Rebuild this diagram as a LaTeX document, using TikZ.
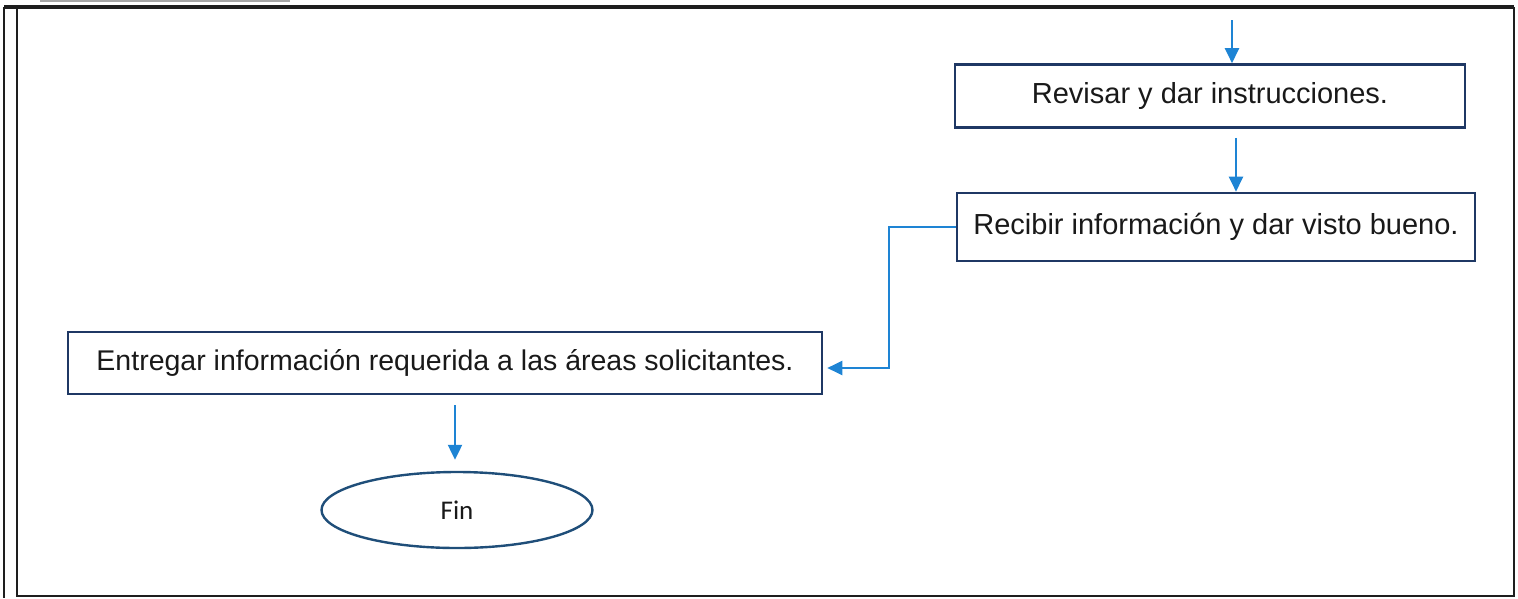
\documentclass[tikz,border=0pt]{standalone}
\usepackage{fontspec}
\setmainfont{Liberation Sans}
\newfontfamily\calibrifont{Carlito}
\usetikzlibrary{shapes.geometric,arrows.meta}
\definecolor{boxc}{RGB}{31,56,100}
\definecolor{ellc}{RGB}{31,78,121}
\definecolor{arrc}{RGB}{30,132,212}
\definecolor{framec}{RGB}{30,30,30}
\tikzset{
  procbox/.style={draw=boxc, line width=2.6pt, rectangle, inner sep=0pt,
    font=\fontsize{29}{34}\selectfont, text=black!90},
  endell/.style={draw=ellc, line width=2.4pt, ellipse, inner sep=0pt,
    font=\calibrifont\fontsize{27}{32}\selectfont, text=black!90},
  arr/.style={draw=arrc, line width=2.2pt, -{Triangle[length=15pt,width=14pt]}},
  frameline/.style={draw=framec, line width=2pt}
}
\begin{document}
\begin{tikzpicture}[x=1pt,y=-1pt]
\useasboundingbox (0,0) rectangle (1518,598);
% frame
\fill[gray!70] (40,0) rectangle (290,2);
\draw[frameline, line width=3.2pt] (4,7) -- (1514,7);
\draw[frameline] (17,7) -- (17,596) -- (1514,596) -- (1514,7);
\draw[frameline] (4,7) -- (4,598);
% nodes
\node[procbox, minimum width=510pt, minimum height=63pt] (b1) at (1210,96) {Revisar y dar instrucciones.};
\node[procbox, minimum width=518pt, minimum height=68pt] (b2) at (1216,227) {Recibir información y dar visto bueno.};
\node[procbox, minimum width=754pt, minimum height=62pt, font=\fontsize{28.5}{34}\selectfont] (b3) at (445,363) {Entregar información requerida a las áreas solicitantes.};
\node[endell, minimum width=271pt, minimum height=76pt] (fin) at (457,510) {Fin};
\coordinate (t0) at (1232,20);
% connectors
\draw[arr] (t0) -- (t0 |- b1.north);
\draw[arr] ([xshift=26pt,yshift=-9pt]b1.south) -- ([xshift=20pt]b2.north);
\draw[arr] (b2.west) -- ++(-67,0) |- ([xshift=4pt,yshift=-5pt]b3.east);
\draw[arr] ([xshift=10pt,yshift=-10pt]b3.south) -- ([xshift=-2pt,yshift=11pt]fin.north);
\end{tikzpicture}
\end{document}
